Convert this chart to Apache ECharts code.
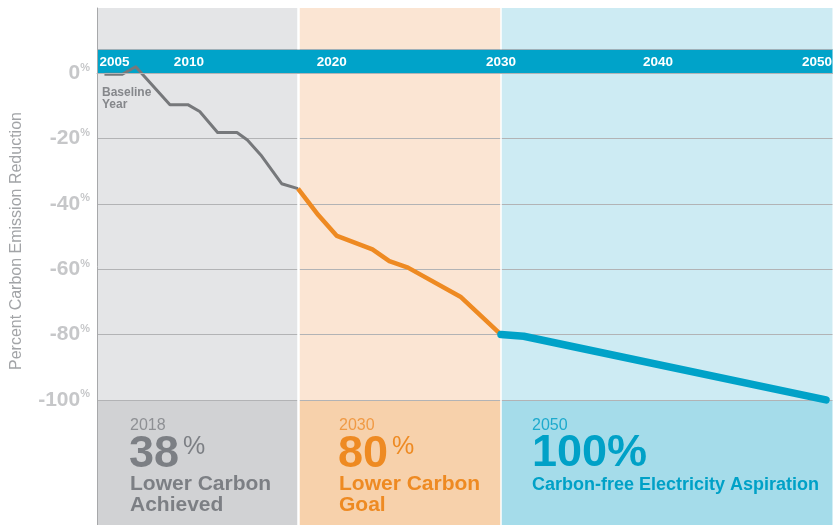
<!DOCTYPE html>
<html>
<head>
<meta charset="utf-8">
<script src="https://cdn.jsdelivr.net/npm/echarts@6/dist/echarts.min.js"></script>
<style>
  html, body { margin: 0; padding: 0; background: #fff; }
  #chart { width: 835px; height: 525px; }
</style>
</head>
<body>
<div id="chart"></div>
<script>
// reduction path (year, percent)
const grayYears = [2005, 2006.2, 2007.1, 2009.4, 2010.6, 2011.4, 2012.6, 2013.9, 2014.6, 2015.5, 2016.9, 2018];
const grayValues = [-0.3, -0.3, 2, -9.6, -9.6, -11.7, -18.1, -18.1, -20.4, -25, -33.8, -35.3];
const orangeYears = [2018, 2019.2, 2020.3, 2022.4, 2023.4, 2024.5, 2027.6, 2030];
const orangeValues = [-35.3, -43.4, -49.8, -53.9, -57.5, -59.5, -68.4, -80];
const blueYears = [2030, 2031.4, 2050];
const blueValues = [-80, -80.5, -100];

const yTicks = [0, -20, -40, -60, -80, -100];
const yearLabels = [[2005, 2010], [2020], [2030, 2040, 2050]];
const bandTop = 7.35;

const sans = "'Liberation Sans', Arial, sans-serif";

const xRanges = [[2004.5, 2018], [2018, 2030], [2030, 2050.4]];
const grids = [
  { left: 97, top: 8, width: 201, height: 517 },
  { left: 298, top: 8, width: 203, height: 517 },
  { left: 501, top: 8, width: 334, height: 517 }
];
const topColors = ["#e4e5e7", "#fbe5d3", "#cdebf3"];
const bottomColors = ["#d1d2d4", "#f7d1ab", "#a5dcea"];

// nudges so the band labels sit where the reference has them
const labelStyle = { 2005: "l", 2010: "l", 2040: "s", 2050: "r" };
const yearFont = { color: "#fff", fontSize: 13.5, fontWeight: "bold", fontFamily: sans };

const chart = echarts.init(document.getElementById("chart"));

const xAxis = grids.map((g, i) => ({
  gridIndex: i,
  type: "value",
  min: xRanges[i][0],
  max: xRanges[i][1],
  position: "top",
  z: 10,
  axisLine: { show: true, lineStyle: { color: "#b3b4b6", width: 1 } },
  axisTick: { show: false },
  splitLine: { show: false },
  axisLabel: {
    inside: true,
    margin: 54,
    verticalAlign: "middle",
    customValues: yearLabels[i],
    formatter: v => "{" + (labelStyle[v] || "c") + "|" + v + "}",
    rich: {
      c: yearFont,
      l: Object.assign({ padding: [0, 0, 0, 20] }, yearFont),
      s: Object.assign({ padding: [0, 11, 0, 0] }, yearFont),
      r: Object.assign({ padding: [0, 18, 0, 0] }, yearFont)
    }
  }
}));

const yAxis = grids.map((g, i) => ({
  gridIndex: i,
  type: "value",
  min: -138.3,
  max: 20,
  show: i === 0,
  z: 10,
  axisLine: { show: true, lineStyle: { color: "#a7a8aa", width: 1 } },
  axisTick: { show: false },
  splitLine: { show: false },
  axisLabel: {
    margin: 7,
    customValues: yTicks,
    formatter: v => "{n|" + v + "}{p|%}",
    rich: {
      n: { color: "#c6c7c9", fontSize: 21, fontWeight: "bold", fontFamily: sans },
      p: { color: "#c6c7c9", fontSize: 11, fontWeight: "bold", fontFamily: sans, padding: [0, 0, 11, 0] }
    }
  }
}));

const series = [];
grids.forEach((g, i) => {
  // region backgrounds and the blue year band
  series.push({
    type: "line",
    xAxisIndex: i,
    yAxisIndex: i,
    data: [],
    z: 1,
    silent: true,
    markArea: {
      silent: true,
      label: { show: false },
      data: [
        [{ yAxis: 20, itemStyle: { color: topColors[i] } }, { yAxis: -100 }],
        [{ yAxis: -100, itemStyle: { color: bottomColors[i] } }, { yAxis: -138.3 }],
        [{ yAxis: bandTop, itemStyle: { color: "#00a3c9" } }, { yAxis: 0 }]
      ]
    }
  });
  // grid lines and white dividers
  const lines = yTicks.map(v => ({ yAxis: v }));
  lines.push({ yAxis: bandTop, lineStyle: { color: "#9fb0b8" } });
  if (i > 0) {
    const x = xRanges[i][0];
    const w = i === 1 ? 2.5 : 1.5;
    lines.push([{ coord: [x, 20], lineStyle: { color: "#fff", width: w } }, { coord: [x, bandTop] }]);
    lines.push([{ coord: [x, 0], lineStyle: { color: "#fff", width: w } }, { coord: [x, -138.3] }]);
  }
  series.push({
    type: "line",
    xAxisIndex: i,
    yAxisIndex: i,
    data: [],
    z: 2,
    silent: true,
    markLine: {
      silent: true,
      symbol: ["none", "none"],
      label: { show: false },
      lineStyle: { color: "#b2b3b5", width: 1, type: "solid" },
      data: lines
    }
  });
});

const zip = (xs, ys) => xs.map((x, k) => [x, ys[k]]);
series.push(
  {
    type: "line", xAxisIndex: 0, yAxisIndex: 0, z: 5, symbol: "none",
    lineStyle: { color: "#76787b", width: 3, join: "round" },
    data: zip(grayYears, grayValues)
  },
  {
    type: "line", xAxisIndex: 1, yAxisIndex: 1, z: 5, symbol: "none",
    lineStyle: { color: "#ee8a22", width: 4.5, join: "round" },
    data: zip(orangeYears, orangeValues)
  },
  {
    type: "line", xAxisIndex: 2, yAxisIndex: 2, z: 5, symbol: "none",
    lineStyle: { color: "#00a2c8", width: 7.5, cap: "round", join: "round" },
    data: zip(blueYears, blueValues)
  }
);

function txt(x, y, text, fill, font, extra, rotation) {
  return {
    type: "text", x: x, y: y, z: 20, silent: true, rotation: rotation || 0,
    style: Object.assign({ text: text, fill: fill, font: font, textVerticalAlign: "middle" }, extra || {})
  };
}

const gray = "#7c7f84", orange = "#ee8a22", blue = "#00a1c7";
const graphic = [
  txt(17, 241, "Percent Carbon Emission Reduction", "#a2a4a7", "16px " + sans,
    { textAlign: "center" }, Math.PI / 2),
  txt(102, 99, "Baseline\nYear", "#85878b", "bold 12px " + sans, { lineHeight: 12 }),

  txt(130, 426, "2018", "#8e9094", "16px " + sans),
  txt(129, 455, "38", gray, "bold 45px " + sans),
  txt(183, 447, "%", gray, "25px " + sans),
  txt(130, 495, "Lower Carbon\nAchieved", gray, "bold 21px " + sans, { lineHeight: 21 }),

  txt(339, 426, "2030", "#f09a45", "16px " + sans),
  txt(338, 455, "80", orange, "bold 45px " + sans),
  txt(392, 447, "%", orange, "25px " + sans),
  txt(339, 495, "Lower Carbon\nGoal", orange, "bold 21px " + sans, { lineHeight: 21 }),

  txt(532, 426, "2050", "#1eaacd", "16px " + sans),
  txt(532, 454, "100%", blue, "bold 45px " + sans),
  txt(532, 485, "Carbon-free Electricity Aspiration", blue, "bold 18px " + sans)
];

chart.setOption({
  animation: false,
  grid: grids,
  xAxis: xAxis,
  yAxis: yAxis,
  series: series,
  graphic: graphic
});
</script>
</body>
</html>
